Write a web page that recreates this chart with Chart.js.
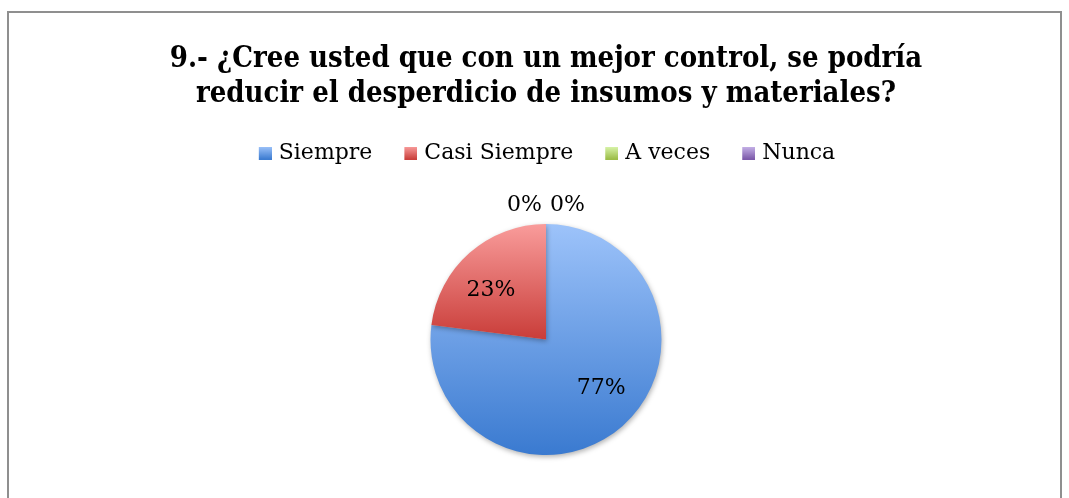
<!DOCTYPE html>
<html>
<head>
<meta charset="utf-8">
<script src="https://cdn.jsdelivr.net/npm/chart.js@4"></script>
<style>
  html, body { margin: 0; padding: 0; background: #fff; }
  #wrap { width: 1069px; height: 498px; }
</style>
</head>
<body>
<div id="wrap"><canvas id="myChart"></canvas></div>
<script>
const titleLines = ['9.- ¿Cree usted que con un mejor control, se podría', 'reducir el desperdicio de insumos y materiales?'];
const categories = ['Siempre', 'Casi Siempre', 'A veces', 'Nunca'];
const values = [77, 23, 0, 0];
// light (top) and dark (bottom) stop of every slice
const topColors = ['#9dc3fa', '#f99c9b', '#d9f5ab', '#c6b2e8'];
const bottomColors = ['#3a7ad0', '#c93d39', '#9abb44', '#7a57a8'];
const midColors = ['#6a9de6', '#e26b69', '#bcd97a', '#a084c8'];

const serif = "'DejaVu Serif', 'Liberation Serif', serif";

// vertical extent of slice i, to stretch its gradient over it
function sliceExtent(chart, i) {
  const a = chart.chartArea;
  const cx = (a.left + a.right) / 2, cy = (a.top + a.bottom) / 2;
  const r = Math.min(a.right - a.left, a.bottom - a.top) / 2;
  const total = values.reduce((s, v) => s + v, 0);
  let start = -90;
  for (let k = 0; k < i; k++) start += values[k] / total * 360;
  const end = start + values[i] / total * 360;
  const ys = [cy, cy + r * Math.sin(start * Math.PI / 180), cy + r * Math.sin(end * Math.PI / 180)];
  for (let deg = -270; deg <= 630; deg += 180) {
    if (deg > start && deg < end) ys.push(cy + r * Math.sin(deg * Math.PI / 180));
  }
  return [Math.min(...ys), Math.max(...ys)];
}

function sliceFill(context) {
  const chart = context.chart;
  const i = context.dataIndex;
  if (!chart.chartArea || i === undefined) return midColors[i] || midColors[0];
  const [y0, y1] = sliceExtent(chart, i);
  const g = chart.ctx.createLinearGradient(0, y0, 0, Math.max(y1, y0 + 1));
  g.addColorStop(0, topColors[i]);
  g.addColorStop(1, bottomColors[i]);
  return g;
}

// legend marker: 13px gradient square sitting at the right of a 19px canvas
function legendMarker(i) {
  const c = document.createElement('canvas');
  c.width = 19; c.height = 13;
  const x = c.getContext('2d');
  const g = x.createLinearGradient(0, 0, 0, 13);
  g.addColorStop(0, topColors[i]);
  g.addColorStop(1, bottomColors[i]);
  x.fillStyle = g;
  x.fillRect(6, 0, 13, 13);
  return c;
}
const markers = categories.map((_, i) => legendMarker(i));

const legendSpacer = {
  id: 'legendSpacer',
  beforeInit(chart) {
    const originalFit = chart.legend.fit;
    chart.legend.fit = function fit() {
      originalFit.bind(chart.legend)();
      this.height += 50;
    };
  },
  afterUpdate(chart) {
    const lg = chart.legend;
    if (!lg || !lg.legendItems) return;
    lg.legendItems.forEach((item, i) => { item.pointStyle = markers[i]; });
  }
};

const frame = {
  id: 'frame',
  beforeDraw(chart) {
    const ctx = chart.ctx;
    ctx.save();
    ctx.fillStyle = '#fff';
    ctx.fillRect(0, 0, chart.width, chart.height);
    ctx.strokeStyle = '#8f8f8f';
    ctx.lineWidth = 2;
    ctx.strokeRect(8, 12, 1053, 500);
    ctx.restore();
  },
  beforeDatasetsDraw(chart) {
    const ctx = chart.ctx;
    ctx.save();
    ctx.shadowColor = 'rgba(0,0,0,0.3)';
    ctx.shadowBlur = 5;
    ctx.shadowOffsetX = 1;
    ctx.shadowOffsetY = 2;
  },
  afterDatasetsDraw(chart) {
    const ctx = chart.ctx;
    ctx.restore();
    const meta = chart.getDatasetMeta(0);
    const total = values.reduce((s, v) => s + v, 0);
    const zeros = [];
    ctx.save();
    ctx.fillStyle = '#000';
    ctx.font = '22px ' + serif;
    ctx.textAlign = 'center';
    ctx.textBaseline = 'middle';
    meta.data.forEach((arc, i) => {
      const pct = Math.round(values[i] / total * 100) + '%';
      if (values[i] === 0) { zeros.push(pct); return; }
      const mid = (arc.startAngle + arc.endAngle) / 2 - 0.12;
      const d = arc.outerRadius * 0.64;
      ctx.fillText(pct, arc.x + Math.cos(mid) * d, arc.y + Math.sin(mid) * d);
    });
    const arc0 = meta.data[0];
    zeros.forEach((pct, k) => {
      const x = arc0.x + (k - (zeros.length - 1) / 2) * 43;
      ctx.fillText(pct, x, arc0.y - arc0.outerRadius - 19);
    });
    ctx.restore();
  }
};

new Chart(document.getElementById('myChart'), {
  type: 'pie',
  data: {
    labels: categories,
    datasets: [{
      data: values,
      backgroundColor: sliceFill,
      borderWidth: 0
    }]
  },
  options: {
    responsive: true,
    maintainAspectRatio: false,
    animation: false,
    layout: { padding: { top: 10, left: 23, right: 0, bottom: 43 } },
    plugins: {
      title: {
        display: true,
        text: titleLines,
        color: '#000',
        font: { family: "'DejaVu Serif Condensed', 'DejaVu Serif', serif", size: 29, weight: 'bold', lineHeight: 1.207 },
        padding: { top: 32, bottom: 0 }
      },
      legend: {
        position: 'top',
        labels: {
          color: '#000',
          font: { family: serif, size: 22 },
          usePointStyle: true,
          pointStyleWidth: 11,
          boxHeight: 13,
          padding: 30
        }
      },
      tooltip: { enabled: false }
    }
  },
  plugins: [legendSpacer, frame]
});
</script>
</body>
</html>
